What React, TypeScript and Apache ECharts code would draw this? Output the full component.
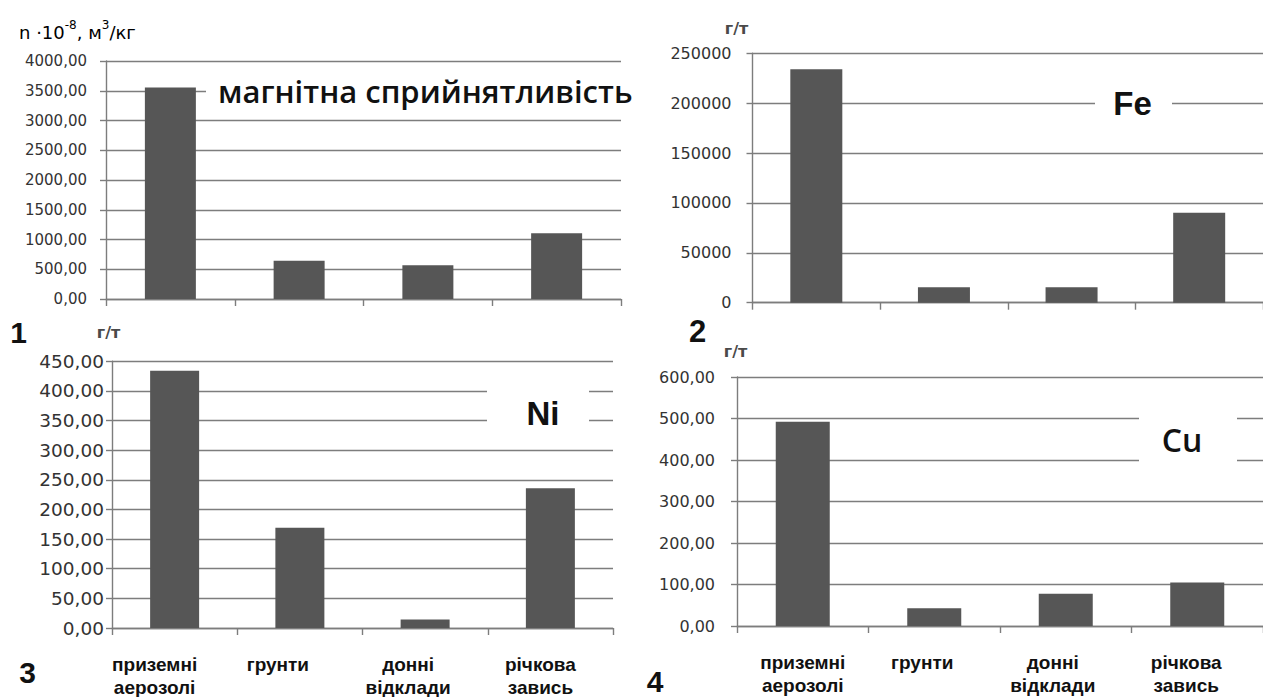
import React, { useEffect, useRef } from "react";
import * as echarts from "echarts";

const categories = ["приземні\nаерозолі", "грунти", "донні\nвідклади", "річкова\nзавись"];
const magneticValues = [3555, 644, 566, 1104];
const feValues = [234000, 15400, 15400, 90200];
const niValues = [434, 169, 14.5, 236];
const cuValues = [492, 43, 78, 105];

const panelTitles = ["магнітна сприйнятливість", "Fe", "Ni", "Cu"];
const panelNumbers = ["1", "2", "3", "4"];
const unitMain = "г/т";

const GRID_COLOR = "#7d7d7d";
const BAR_COLOR = "#565656";
const TICK_FONT = "DejaVu Sans";

function fmt(decimals: boolean) {
  return (v: number) => (decimals ? v.toFixed(2).replace(".", ",") : String(v));
}

function makeY(gridIndex: number, max: number, interval: number) {
  return {
    type: "value",
    gridIndex,
    min: 0,
    max,
    interval,
    axisLine: { show: true, lineStyle: { color: GRID_COLOR, width: 1.4 } },
    axisTick: { show: true, inside: false, length: 6, lineStyle: { color: GRID_COLOR, width: 1.4 } },
    splitLine: { show: true, lineStyle: { color: GRID_COLOR, width: 1.4 } },
    axisLabel: { show: false },
  };
}

function makeYLabels(gridIndex: number, max: number, interval: number, decimals: boolean, fontSize: number, offset: number) {
  return {
    type: "value",
    gridIndex,
    position: "left",
    offset,
    min: 0,
    max,
    interval,
    axisLine: { show: false },
    axisTick: { show: false },
    splitLine: { show: false },
    axisLabel: {
      show: true,
      margin: 8,
      color: "#333",
      fontFamily: TICK_FONT,
      fontSize,
      formatter: fmt(decimals),
    },
  };
}

function makeX(gridIndex: number, showLabels: boolean, shifts: number[]) {
  const base = {
    fontFamily: "Liberation Sans",
    fontWeight: "bold",
    fontSize: 19,
    lineHeight: 23,
    color: "#111",
  };
  const rich: any = {};
  shifts.forEach((s, i) => {
    rich["c" + i] = { ...base, padding: [0, s * 2, 0, 0] };
  });
  return {
    type: "category",
    gridIndex,
    data: categories,
    boundaryGap: true,
    axisLine: { show: true, lineStyle: { color: GRID_COLOR, width: 1.4 } },
    axisTick: { show: true, length: 7, alignWithLabel: false, lineStyle: { color: GRID_COLOR, width: 1.4 } },
    splitLine: { show: false },
    axisLabel: {
      show: showLabels,
      interval: 0,
      margin: 25,
      formatter: (value: string, idx: number) =>
        value
          .split("\n")
          .map((l) => `{c${idx}|${l}}`)
          .join("\n"),
      rich,
    },
  };
}

function bar(idx: number, data: number[], width: number) {
  return {
    type: "bar",
    xAxisIndex: idx,
    yAxisIndex: idx,
    data,
    barWidth: width,
    itemStyle: { color: BAR_COLOR },
    silent: true,
  };
}

function whiteRect(x: number, y: number, w: number, h: number) {
  return {
    type: "rect",
    z: 100,
    shape: { x, y, width: w, height: h },
    style: { fill: "#fff" },
    silent: true,
  };
}

function label(text: string, x: number, y: number, font: string, color: string, align = "center") {
  return {
    type: "text",
    z: 101,
    x,
    y,
    silent: true,
    style: {
      text,
      font,
      fill: color,
      align,
      verticalAlign: "middle",
      textAlign: align,
      textVerticalAlign: "middle",
    },
  };
}

export default function App() {
  const ref = useRef<HTMLDivElement>(null);
  useEffect(() => {
    if (!ref.current) return;
    const chart = echarts.init(ref.current, undefined, { renderer: "svg" });
    const option: any = {
      animation: false,
      backgroundColor: "#fff",
      grid: [
        { left: 106, top: 61, width: 515, height: 238 },
        { left: 752.5, top: 53.3, width: 526, height: 249.4 },
        { left: 112, top: 361.3, width: 501, height: 268 },
        { left: 737, top: 377, width: 544, height: 249 },
      ],
      xAxis: [
        makeX(0, false, [0, 0, 0, 0]),
        makeX(1, false, [0, 0, 0, 0]),
        makeX(2, true, [20, 22, 17, 10]),
        makeX(3, true, [0, 12, 13, 11]),
      ],
      yAxis: [
        makeY(0, 4000, 500),
        makeY(1, 250000, 50000),
        makeY(2, 450, 50),
        makeY(3, 600, 100),
        makeYLabels(0, 4000, 500, true, 15, 11),
        makeYLabels(1, 250000, 50000, false, 16, 13),
        makeYLabels(2, 450, 50, true, 18.5, 0),
        makeYLabels(3, 600, 100, true, 16, 14),
      ],
      series: [
        bar(0, magneticValues, 51),
        bar(1, feValues, 52),
        bar(2, niValues, 49),
        bar(3, cuValues, 54),
      ],
      graphic: [
        whiteRect(206, 75, 440, 31),
        label(panelTitles[0], 218, 90.5, '600 31px "Open Sans"', "#111", "left"),
        whiteRect(1095, 88, 77, 30),
        label(panelTitles[1], 1132.5, 103.5, 'bold 33px "Liberation Sans"', "#111"),
        whiteRect(487, 383, 102, 50),
        label(panelTitles[2], 543, 413.5, 'bold 33px "Liberation Sans"', "#111"),
        whiteRect(1139, 406, 98, 66),
        label(panelTitles[3], 1182, 439, '600 32px "Open Sans"', "#111"),
        {
          type: "text",
          z: 101,
          x: 19,
          y: 30,
          silent: true,
          style: {
            text: "{a|n ·10}{s|-8}{a|, м}{s|3}{a|/кг}",
            align: "left",
            verticalAlign: "middle",
            textAlign: "left",
            textVerticalAlign: "middle",
            rich: {
              a: { fontFamily: TICK_FONT, fontSize: 18, color: "#333", lineHeight: 22, verticalAlign: "bottom" },
              s: { fontFamily: TICK_FONT, fontSize: 12, color: "#333", lineHeight: 22, verticalAlign: "top" },
            },
          },
        },
        label(unitMain, 736.5, 28, 'bold 16px "DejaVu Sans"', "#4a4a4a"),
        label(unitMain, 108.5, 332, 'bold 16px "DejaVu Sans"', "#4a4a4a"),
        label(unitMain, 735.5, 351, 'bold 16px "DejaVu Sans"', "#4a4a4a"),
        label(panelNumbers[0], 18.5, 332, 'bold 30px "Liberation Sans"', "#111"),
        label(panelNumbers[1], 697.5, 331, 'bold 31px "Liberation Sans"', "#111"),
        label(panelNumbers[2], 27.5, 672, 'bold 30px "Liberation Sans"', "#111"),
        label(panelNumbers[3], 655, 681, 'bold 30px "Liberation Sans"', "#111"),
      ],
    };
    chart.setOption(option);
    return () => chart.dispose();
  }, []);
  return (
    <div
      ref={ref}
      style={{ position: "fixed", left: 0, top: 0, width: 1263, height: 697, background: "#fff" }}
    />
  );
}
